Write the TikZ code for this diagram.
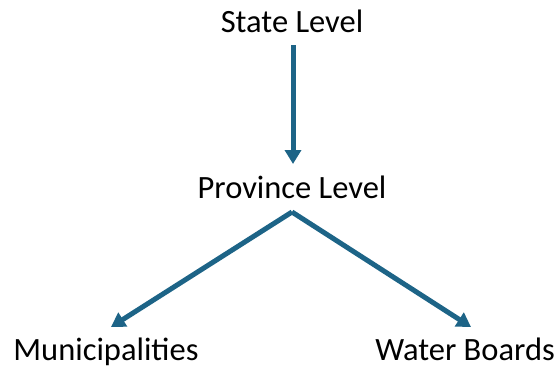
\documentclass[tikz,border=0pt]{standalone}
\usepackage{fontspec}
\setmainfont{Carlito}
\usetikzlibrary{arrows.meta}
\definecolor{arrblue}{RGB}{29,100,135}
\begin{document}
\begin{tikzpicture}[x=1pt,y=-1pt,
  lbl/.style={inner sep=0pt,anchor=base,font=\fontsize{32.5}{38}\selectfont,text=black},
  arr/.style={draw=arrblue,line width=5pt,-{Triangle[width=16pt,length=14pt]}}]
\useasboundingbox (0,0) rectangle (557,367);
\node[lbl] (state) at (292,32) {State Level};
\node[lbl] (prov) at (292,198) {Province Level};
\node[lbl] (muni) at (106,360) {Municipalities};
\node[lbl] (water) at (465,360) {Water Boards};
\coordinate (s1) at (293,45);
\coordinate (p1) at (293,164);
\coordinate (apex) at (292,212);
\coordinate (lt) at (111,327);
\coordinate (rt) at (471,327);
\draw[arr] (s1) -- (p1);
\draw[arr] (apex) -- (lt);
\draw[arr] (apex) -- (rt);
\end{tikzpicture}
\end{document}
